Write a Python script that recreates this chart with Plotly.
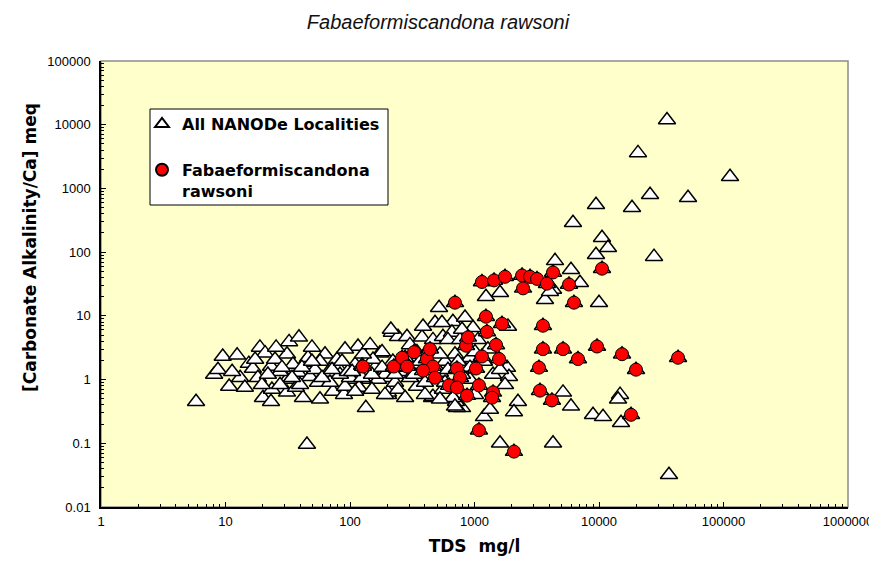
import plotly.graph_objects as go

# ---- data (TDS mg/l, [Carbonate Alkalinity/Ca] meq) ----
all_tds = [
    35160, 20560, 112800, 25700, 51880, 9460, 18410, 6180, 10570, 11800,
    9460, 27670, 4433, 5957, 7031, 4272, 10000, 1603, 1236, 3681,
    4036, 519, 482, 671, 839, 973, 1858, 548, 5140, 5957,
    8950, 10770, 14760, 14220, 15030, 4272, 36480, 1603, 2234, 2075,
    1191, 794, 710, 723, 456, 202, 1409, 1824, 1892, 809,
    5.8, 8.1, 8.7, 9.5, 12.4, 10.7, 13.1, 15.4, 18.9, 20.8,
    16.6, 18.2, 23.2, 20.0, 23.2, 32.4, 38.9, 31.2, 31.2, 38.2,
    43.5, 47.7, 31.2, 41.9, 57.4, 63.0, 66.6, 80.1, 73.0, 89.5,
    116, 104, 118, 145, 174, 217, 202, 243, 287, 379,
    464, 345, 210, 345, 464, 671, 697, 134, 500, 558,
    45.1, 23.6, 36.8, 46.0, 78.7, 91.2, 100, 140, 168, 181,
    191, 213, 558, 659, 612, 25, 27.4, 34.8, 52.3, 55.3,
    69, 83, 110, 125, 159, 191, 230, 252, 303, 327,
    400, 528, 580, 920, 920, 1009, 697, 580, 400, 277,
    221, 153, 127, 96, 57.4, 39.7, 27.4, 19.6, 14.3, 11.3,
    25.5, 49.5, 91.2, 145, 303, 386, 765, 1067, 1282, 794,
    1191, 1603, 1758, 1331,
    17.3, 21.9, 28.4, 34.2, 41.1, 49.5, 59.6, 71.7, 86.3, 104,
    125, 150, 181, 230, 277, 327, 365, 528, 612, 737,
    794, 920, 1009, 110, 150, 243, 277, 400, 528,
]
all_ratio = [
    11890, 3614, 1521, 794, 713, 553, 497, 289, 168, 117,
    91, 85, 73, 53, 33, 26, 16.1, 23, 20, 17.9,
    24, 13.4, 7.8, 8.1, 9.4, 6.5, 6.8, 7.8, 0.63, 0.38,
    0.28, 0.26, 0.58, 0.49, 0.21, 0.10, 0.032, 0.10, 0.45, 0.31,
    0.26, 0.36, 0.45, 0.36, 0.52, 0.58, 1.2, 1.54, 1.11, 1.6,
    0.45, 1.2, 1.43, 2.3, 2.4, 0.78, 1.07, 1.78, 3.2, 2.6,
    1.49, 1.07, 1.6, 0.52, 0.45, 3.9, 4.6, 2.5, 1.0, 1.29,
    1.85, 1.11, 0.63, 0.52, 0.49, 2.5, 1.29, 1.54, 0.65, 0.58,
    3.3, 1.0, 0.75, 1.0, 2.6, 5.5, 0.63, 4.7, 4.7, 4.6,
    4.2, 2.7, 1.07, 0.78, 0.54, 0.52, 0.38, 0.36, 1.0, 0.70,
    0.096, 0.70, 0.75, 2.2, 2.06, 0.78, 1.07, 1.33, 1.0, 2.7,
    0.58, 6.1, 4.7, 5.5, 4.2, 2.06, 1.33, 1.72, 1.43, 0.9,
    0.9, 1.2, 1.72, 1.07, 1.54, 1.2, 0.9, 1.33, 1.07, 1.72,
    0.9, 1.29, 0.9, 1.0, 2.2, 0.58, 2.5, 1.92, 2.5, 2.2,
    1.92, 2.06, 2.5, 1.33, 1.92, 0.83, 0.83, 0.83, 0.75, 1.33,
    3.2, 3.2, 3.0, 3.5, 3.5, 6.8, 4.2, 4.2, 3.0, 6.1,
    1.92, 1.43, 0.83, 0.34,
    2.06, 1.2, 1.54, 1.07, 1.54, 1.92, 1.07, 1.43, 1.92, 1.33,
    1.66, 1.2, 1.54, 1.2, 1.54, 1.2, 1.92, 2.5, 1.43, 1.92,
    1.2, 1.54, 2.7, 0.65, 0.70, 0.70, 0.52, 0.58, 0.49,
]

fab_tds = [
    127, 225, 262, 287, 327, 415, 439, 464, 386, 482,
    624, 723, 765, 723, 871, 1028, 1086, 855, 887, 1148,
    1489, 1574, 1409, 1383, 1259, 1663, 1236, 697,
    1148, 1435, 1758, 2410, 2793, 3177, 3819, 4272, 2455, 5741,
    6295, 10570,
    3548, 3548, 5140, 6776, 9640, 15310, 19820, 43150, 3296, 3357,
    4188, 18080, 1086, 2075,
]
fab_ratio = [
    1.6, 1.6, 2.2, 1.6, 2.7, 2.1, 3.0, 1.6, 1.38, 1.07,
    0.81, 1.49, 1.07, 0.75, 0.56, 1.49, 0.81, 3.4, 4.6, 2.3,
    3.5, 2.1, 0.63, 0.52, 5.6, 7.5, 9.7, 16.1,
    34, 36, 41, 43, 41, 38, 32, 48, 27, 31,
    16.1, 55,
    7.0, 3.0, 3.0, 2.1, 3.3, 2.5, 1.43, 2.2, 1.54, 0.67,
    0.47, 0.28, 0.16, 0.074,
]

x_tickvals = [1, 10, 100, 1000, 10000, 100000, 1000000]
x_ticktext = ["1", "10", "100", "1000", "10000", "100000", "1000000"]
y_tickvals = [0.01, 0.1, 1, 10, 100, 1000, 10000, 100000]
y_ticktext = ["0.01", "0.1", "1", "10", "100", "1000", "10000", "100000"]

title_text = "Fabaeformiscandona rawsoni"
x_title = "TDS  mg/l"
y_title = "[Carbonate Alkalinity/Ca] meq"
name_all = "All NANODe Localities"
name_fab = "Fabaeformiscandona<br>rawsoni"

FONT = "Liberation Sans, Arial, sans-serif"
BOLD = "DejaVu Sans, Verdana, sans-serif"

# plot area (figure px): left 93, top 53, width 747, height 446
PW, PH = 747, 446

fig = go.Figure()

# every locality (the species sites are localities too)
fig.add_trace(go.Scatter(
    x=all_tds + fab_tds, y=all_ratio + fab_ratio,
    mode="markers", name=name_all, legendgroup="a",
    marker=dict(symbol="triangle-up", size=15, color="white",
                line=dict(color="black", width=1.5)),
))
fig.add_trace(go.Scatter(
    x=fab_tds, y=fab_ratio,
    mode="markers", name=name_fab, legendgroup="b",
    marker=dict(symbol="circle", size=13, color="#FF0000",
                line=dict(color="black", width=1)),
))

fig.update_layout(
    width=877, height=569,
    margin=dict(l=93, r=37, t=53, b=70),
    paper_bgcolor="white",
    plot_bgcolor="#FFFFCC",
    font=dict(family=FONT, color="black", size=13),
    title=dict(text="<i>" + title_text + "</i>", x=430 / 877, xanchor="center",
               y=1 - 14 / 569, yanchor="middle", yref="container",
               font=dict(family=FONT, size=20, color="#111")),
    showlegend=True,
    legend=dict(x=41 / PW, y=1 - 46 / PH, xanchor="left", yanchor="top",
                bgcolor="rgba(0,0,0,0)", borderwidth=0,
                font=dict(family=BOLD, size=16, color="black", weight="bold"),
                traceorder="grouped", tracegroupgap=22, valign="top",
                itemsizing="constant"),
    shapes=[
        dict(type="rect", xref="paper", yref="paper", x0=0, y0=0, x1=1, y1=1,
             line=dict(color="#8c8c8c", width=1.5), layer="below"),
        dict(type="rect", xref="paper", yref="paper",
             x0=49 / PW, x1=287 / PW,
             y0=1 - 144 / PH, y1=1 - 48 / PH,
             line=dict(color="black", width=1), fillcolor="white", layer="below"),
    ],
    annotations=[
        dict(text="<b>" + y_title + "</b>", xref="paper", yref="paper",
             x=-71 / PW, y=(507 - 248) / PH, xanchor="center", yanchor="middle",
             textangle=-90, showarrow=False,
             font=dict(family=BOLD, size=17, color="black")),
    ],
)

fig.update_xaxes(
    type="log", range=[0, 6],
    tickvals=x_tickvals, ticktext=x_ticktext,
    ticks="inside", ticklen=5, tickwidth=1, tickcolor="black",
    minor=dict(ticks="inside", ticklen=3, tickcolor="black", dtick="D1", showgrid=False),
    showgrid=False, zeroline=False,
    showline=True, linecolor="black", linewidth=1.5,
    tickfont=dict(family=FONT, size=13, color="black"),
    ticklabelstandoff=2,
    title=dict(text="<b>" + x_title + "</b>", standoff=12,
               font=dict(family=BOLD, size=17, color="black")),
    automargin=False,
)
fig.update_yaxes(
    type="log", range=[-2, 5],
    tickvals=y_tickvals, ticktext=y_ticktext,
    ticks="inside", ticklen=5, tickwidth=1, tickcolor="black",
    minor=dict(ticks="inside", ticklen=3, tickcolor="black", dtick="D1", showgrid=False),
    showgrid=False, zeroline=False,
    showline=True, linecolor="black", linewidth=1.5,
    tickfont=dict(family=FONT, size=13, color="black"),
    ticklabelstandoff=6,
    automargin=False,
)

fig.write_html("out.html")
